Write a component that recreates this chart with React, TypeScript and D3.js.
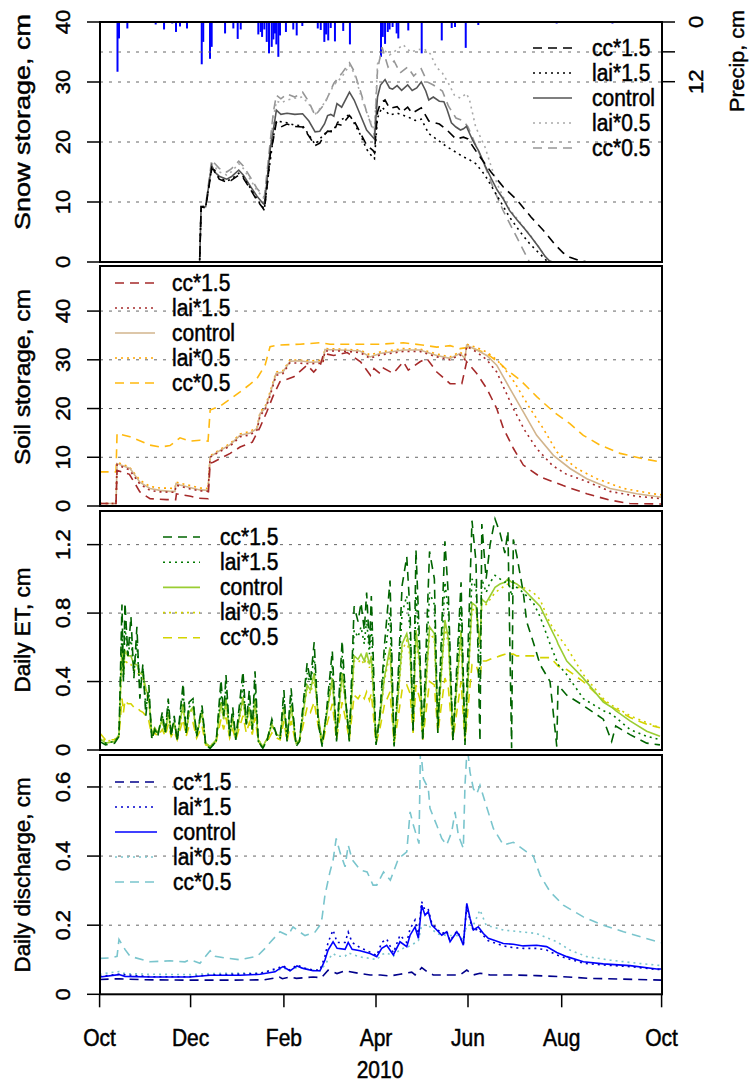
import React from "react";
import * as d3 from "d3";

// ---------------- data ----------------
const monthTickDates = ["2009-10-01", "2009-12-01", "2010-02-01", "2010-04-01", "2010-06-01", "2010-08-01", "2010-10-01"];
const monthTickLabels = ["Oct", "Dec", "Feb", "Apr", "Jun", "Aug", "Oct"];
const yearLabel = "2010";
const seriesNames = ["cc*1.5", "lai*1.5", "control", "lai*0.5", "cc*0.5"];

type Pt = [number, number]; // [day since 2009-10-01, value]

// Snow storage, cm
const snowCc15: Pt[] = [[0,0],[67,0],[68,9.2],[71,9.0],[75,15.5],[77,15.3],[80,13.8],[85,13.3],[88,13.6],[93,14.5],[96,14.0],[101,12.0],[105,10.3],[109,9.0],[110,8.6],[112,13],[114,18],[116,20.5],[118,23.3],[121,22.5],[125,23],[130,22.6],[135,22.5],[139,21],[143,19.4],[146,19.8],[149,21.2],[151,21.8],[155,21.7],[157,23.0],[160,22.8],[165,24.4],[168,23.5],[172,21.5],[176,19.5],[180,18.6],[181,18.2],[183,25],[185,26.5],[188,27],[191,25.6],[196,25.9],[199,25],[203,25.8],[206,24.8],[212,25.7],[217,23.5],[224,23],[229,22],[235,20.5],[240,20.8],[243,20.5],[250,17.8],[258,15],[266,12.5],[275,10.3],[284,7.5],[292,5.3],[300,2.8],[305,1.5],[309,0.8],[315,0.2],[320,0],[365,0]];
const snowLai15: Pt[] = [[0,0],[67,0],[68,9.2],[71,9.1],[75,15.7],[80,14.0],[85,13.5],[88,13.8],[93,14.8],[96,14.2],[101,12.2],[105,10.5],[110,8.8],[112,13.2],[116,20.8],[118,23.5],[125,23.2],[130,22.8],[135,22.7],[139,21.2],[143,19.6],[149,21.4],[155,22],[157,23.2],[165,24.6],[172,21.2],[176,18.8],[180,17.4],[181,17.2],[183,24],[186,25.8],[191,24.5],[196,24.8],[203,24.2],[208,23.6],[212,23.8],[217,21.4],[222,20.5],[229,19.2],[235,18.3],[240,17.5],[243,17.2],[248,16.4],[254,14.5],[262,11],[270,7.5],[277,5],[283,3.1],[288,1.8],[292,0.8],[295,0],[365,0]];
const snowControl: Pt[] = [[0,0],[67,0],[68,9.2],[71,9.2],[75,16.1],[77,15.0],[80,14.3],[85,13.8],[88,14.2],[93,15.3],[96,14.5],[101,12.5],[105,11],[109,9.8],[110,9.6],[112,14],[114,19],[116,22],[118,25.3],[121,24.6],[125,24.8],[130,24.6],[135,24.7],[139,23.5],[143,21.7],[146,21.8],[149,23],[151,24.4],[153,24.6],[155,24.3],[157,26.4],[160,25.8],[165,28.3],[168,27],[172,24.5],[176,22],[180,20.8],[181,20.5],[183,27.5],[185,29.5],[188,30.4],[191,29.0],[193,28.8],[196,29.4],[199,28.6],[203,29.5],[206,28.6],[209,29.0],[212,30.0],[215,28.5],[217,27],[220,27.5],[224,26.8],[227,26.7],[229,25.5],[232,23.2],[235,22.5],[238,22.0],[240,22.2],[242,22.6],[243,22],[246,20.3],[250,18.5],[254,16.1],[258,14],[262,12],[266,10.5],[270,8.6],[275,7],[280,5.5],[284,4.2],[289,2.5],[293,1.0],[296,0.2],[298,0],[365,0]];
const snowLai05: Pt[] = [[0,0],[67,0],[68,9.3],[71,9.3],[75,16.5],[80,15.0],[85,14.5],[88,15.0],[93,16.4],[96,15.6],[101,13.6],[105,12],[110,10.5],[112,15],[116,24],[118,26.8],[121,26.5],[125,27],[130,27.3],[135,27.5],[139,26.3],[143,24.6],[149,26.5],[155,29.5],[160,30.8],[165,32.8],[168,31.5],[172,28],[176,25],[180,22.5],[181,21.8],[183,33],[187,35.4],[191,34.5],[196,35.4],[200,36.2],[205,35],[210,35.4],[214,35.5],[218,34.7],[222,32.5],[226,31.5],[230,29.8],[234,27.8],[238,27.3],[242,28.1],[244,27],[248,22.5],[254,19.2],[258,16],[262,13],[266,10.8],[270,8.8],[275,7.2],[280,5.6],[284,4.3],[289,2.5],[293,1.0],[296,0],[365,0]];
const snowCc05: Pt[] = [[0,0],[67,0],[68,9.3],[71,9.4],[75,17],[80,15.6],[85,15.0],[88,15.5],[93,16.8],[96,16],[101,14],[105,12.3],[110,10.8],[112,15.5],[116,25],[118,27.8],[121,27.2],[125,28],[130,27.5],[135,28.3],[139,26.7],[143,24.4],[149,26.3],[155,29.8],[160,31.4],[165,33.2],[168,31.8],[172,28.5],[176,25],[180,22],[181,21],[183,32],[186,35.8],[190,32.5],[194,33.5],[198,31.5],[203,32.5],[207,31],[212,32.2],[216,30],[220,29.5],[226,28.5],[230,26],[235,24],[240,23.5],[243,22.5],[248,19.5],[254,16],[260,12],[266,8.5],[272,5.5],[277,3],[281,1],[283,0],[365,0]];

// Daily precipitation, cm (right axis of the snow panel)
const precipDays = [12, 13, 18.6, 37.6, 43.2, 48.7, 51.2, 53.9, 58.6, 68.4, 69.4, 73.9, 75, 83.9, 89.4, 92.3, 94.3, 106, 107.6, 108.5, 110, 111.6, 113.1, 114.9, 116, 117.1, 118, 119.3, 120.4, 124.3, 129, 131.2, 134.8, 144.7, 146.6, 148.9, 150, 151.4, 153, 155.7, 161, 165.3, 185.3, 186.5, 188, 189.8, 191, 193, 195.7, 196.8, 203.4, 212.3, 225.6, 232.2, 234.4, 241.5, 249.7, 300.7, 335];
const precipValues = [10, 3.3, 1.3, 0.5, 1.5, 0.3, 2, 0.9, 1.3, 8.5, 4, 7.4, 5, 2.3, 1.3, 3.4, 1.5, 2.5, 2, 3, 1.5, 4, 6.3, 5, 3.5, 2.3, 4.5, 7, 2.7, 2, 1.5, 2.7, 0.8, 1.3, 1.6, 4, 2.5, 3.7, 1.2, 3.9, 1.8, 4.5, 7, 3, 4.4, 2, 1.5, 1.0, 2.3, 3.3, 1.7, 6.3, 3.7, 1.2, 1, 5.2, 0.6, 0.3, 0.3];

// Soil storage, cm
const soilCc15: Pt[] = [[0,0.5],[11,0.5],[11.7,7.3],[20,6.5],[27,2.9],[33.8,1.5],[45,1.3],[51,1.3],[51.5,2.5],[57,2.2],[61,2.0],[66,1.6],[72.6,1.5],[74,8.8],[76,9.0],[87.3,10.8],[93.9,12.1],[102,13.1],[107.2,16.2],[111.6,19.3],[116,22.7],[120.4,25.5],[129.3,26.5],[137.9,28.9],[142.1,27.5],[146.4,29],[148.5,31.3],[154.9,30.9],[163.5,31.5],[172.1,29.6],[178.5,26.8],[180.7,28.2],[184.7,27.2],[186.9,28.3],[193.5,27.2],[200.1,29.6],[203.4,27.9],[211.2,29.6],[215.6,30.3],[222.3,27.5],[231.1,25.1],[238.9,25.1],[242.1,29.6],[248.7,27.2],[255.2,24.1],[261.7,20],[266.1,15.9],[272.6,11.8],[279,8.4],[289.9,6],[304.9,4.2],[319.3,2.5],[333.5,1.2],[345.7,0.5],[365,0.4]];
const soilLai15: Pt[] = [[0,0.5],[11,0.5],[11.7,8.5],[20,7.4],[27,4.5],[33.8,3.2],[40.5,2.9],[50.5,2.8],[51.2,4.3],[60.6,3.5],[67.2,3.1],[72.6,3.0],[74,10.0],[80.6,11.2],[87.3,12.3],[93.9,14.2],[100.6,14.6],[105.2,15.6],[107.2,18.6],[110.5,19.7],[113.8,22.6],[117.8,26.8],[122.4,27.2],[126.9,29.4],[139.7,29.2],[148,29.3],[149.3,31.8],[159,31.8],[171.8,31.5],[178.2,30.3],[184.7,31],[191.3,31.3],[199.9,31.7],[211.2,31.7],[222.3,30.6],[231.1,30.0],[237.7,31],[241,30],[242.1,32.8],[248.7,31.6],[255.2,30],[261.7,27.5],[266,24.5],[272.5,20],[280,15.5],[287.7,11.8],[298,8.3],[307,6.5],[318,5.2],[333.5,3.0],[349.8,2.0],[365,1.5]];
const soilControl: Pt[] = [[0,0.5],[11,0.5],[11.7,8.7],[20.4,7.7],[27,4.9],[33.8,3.6],[40.5,3.2],[47.2,3.0],[50.5,3.0],[51.2,4.6],[53.9,4.3],[60.6,3.8],[67.2,3.3],[72.6,3.2],[74,10.1],[80.6,11.4],[87.3,12.6],[93.9,14.5],[100.6,15],[105.2,15.9],[107.2,19],[110.5,20],[113.8,23],[117.8,27.2],[122.4,27.5],[126.9,29.7],[133.3,29.8],[139.7,29.5],[148,29.6],[149.3,32.1],[159,32],[171.8,31.8],[178.2,30.6],[184.7,31.3],[191.3,31.6],[199.9,32],[211.2,32],[222.3,30.9],[231.1,30.3],[237.7,31.3],[241,30.3],[242.1,33],[248.7,32],[255.2,30.9],[261.7,28.9],[270.3,24.1],[279,19.3],[287.7,14.5],[298.6,10.4],[309.1,7.7],[319.3,5.6],[333.5,3.6],[349.8,2.5],[365,1.8]];
const soilLai05: Pt[] = [[0,0.5],[11,0.5],[11.7,9.0],[20,8.0],[27,5.3],[33.8,4.0],[40.5,3.7],[50.5,3.6],[51.2,4.9],[60.6,4.2],[67.2,3.7],[72.6,3.6],[74,10.3],[80.6,11.6],[87.3,12.8],[93.9,14.8],[100.6,15.3],[105.2,16.2],[107.2,19.3],[110.5,20.4],[113.8,23.4],[117.8,27.5],[122.4,27.8],[126.9,30],[139.7,29.8],[148,29.9],[149.3,32.3],[159,32.2],[171.8,32],[178.2,31],[184.7,31.6],[191.3,31.9],[199.9,32.3],[211.2,32.2],[222.3,31.2],[231.1,30.6],[237.7,31.6],[241,30.8],[242.1,33.2],[248.7,32.5],[255.2,31.6],[261.7,30],[266,28.5],[273,25.5],[283.4,20],[292,15.9],[300.8,11.1],[313.2,7.7],[325.4,5.6],[341.7,3.6],[360,2.5],[365,2.3]];
const soilCc05: Pt[] = [[0,7.0],[11,7.0],[11.7,14.9],[20.4,14.2],[33.8,12.5],[40.5,12.1],[47.2,12.4],[53.9,14],[60.6,13.3],[67.2,13.5],[72.6,13.3],[74,19.7],[80.6,20.5],[89.4,22.4],[93.9,23.4],[100.6,25],[105.2,26.2],[110.5,28.9],[113.8,32.7],[118.5,33],[133.3,33.2],[146.1,33.5],[152.5,33.2],[165.3,33.2],[184.7,33.2],[200.1,33.5],[211.2,33.1],[222.3,32.6],[231.1,32.9],[237.7,32.3],[244.3,32.6],[255.2,31.3],[264,29.2],[268.4,27.9],[277.1,25.8],[287.9,22.4],[298.8,19.3],[309,16.9],[317.2,14.5],[327.4,12.5],[339.6,10.8],[353.8,9.7],[365,9.0]];

// Daily ET, cm (shared days for all five runs)
const etDays = [0,4,10,13,15,16,17,19,21,23,25,27,29,31,33,35,37,39,42,44,46,48,50,52,56,58,60,62.6,65,68.6,71,74,78,81.2,83,84.5,87,89,91,95.8,98,100,102,103.8,106,109,112,115,118.4,120.5,123,125,127.6,130.8,133,137.9,140,142.4,145,147.5,150,154,156.7,160.3,162.5,164.9,168,170.5,172.4,174.5,176,177.8,179,182,184.5,187.5,191.3,194,196.5,199.3,202.4,204.6,206.6,208.5,211,213,217.5,220.7,223,227.7,230,233,238.4,241,245.6,248.2,250.8,252,254.8,257.4,260.6,263.8,267,269,271.4,272.5,274.7,279,281.2,285.5,289.9,296.4,300.8,301.6,307.1,317.2,329.4,334.5,337,345.7,355.9,364];
const etCc15 = [.05,.03,.04,.08,.85,.40,.86,.55,.78,.42,.72,.30,.50,.20,.38,.06,.12,.08,.22,.10,.30,.08,.20,.05,.39,.10,.28,.30,.08,.26,.03,.01,.05,.41,.20,.44,.08,.25,.06,.46,.15,.35,.12,.46,.05,.01,.06,.18,.08,.07,.35,.05,.36,.02,.05,.51,.40,.63,.16,.02,.20,.58,.05,.64,.30,.05,.84,.75,.86,.70,.92,.60,.90,.03,.20,.60,.99,.02,.40,.96,1.13,.80,.10,1.17,.60,.05,1.16,1.00,.10,1.22,.90,.05,.98,.03,1.34,1.10,.05,1.32,1.00,1.20,1.35,1.27,1.15,1.28,.01,1.23,1.14,.92,.75,.63,.50,.40,.02,.38,.32,.26,.18,.05,.14,.09,.04,.03];
const etLai15 = [.06,.04,.05,.08,.70,.42,.72,.55,.66,.45,.62,.36,.48,.25,.33,.07,.12,.09,.20,.10,.26,.09,.18,.06,.33,.10,.25,.28,.08,.24,.03,.01,.05,.34,.20,.37,.08,.22,.06,.38,.15,.30,.12,.38,.05,.01,.06,.16,.08,.07,.30,.06,.31,.03,.05,.45,.38,.55,.18,.03,.20,.50,.06,.55,.30,.06,.70,.66,.72,.62,.76,.56,.74,.04,.20,.52,.80,.03,.36,.80,.90,.70,.12,.92,.55,.06,.92,.85,.12,.98,.80,.06,.85,.04,1.00,.95,.40,1.00,.92,.98,1.02,1.00,.98,1.00,.90,.98,.95,.92,.90,.86,.78,.62,.52,.50,.44,.30,.23,.21,.19,.12,.08,.06];
const etControl = [.07,.04,.05,.09,.60,.45,.58,.55,.55,.50,.50,.45,.44,.36,.30,.09,.13,.10,.18,.10,.22,.10,.16,.07,.27,.10,.22,.25,.09,.22,.04,.02,.06,.28,.18,.30,.09,.19,.07,.31,.15,.25,.12,.30,.06,.02,.07,.15,.09,.08,.25,.07,.26,.04,.06,.38,.35,.45,.20,.04,.18,.42,.08,.45,.28,.08,.55,.53,.56,.52,.57,.50,.55,.06,.18,.42,.60,.05,.30,.62,.68,.58,.15,.70,.50,.08,.72,.68,.15,.76,.65,.08,.70,.06,.86,.84,.62,.88,.86,.90,.95,.97,.98,1.00,.98,.98,.97,.94,.92,.88,.84,.72,.64,.62,.52,.42,.28,.25,.23,.17,.11,.08];
const etLai05 = [.09,.05,.06,.09,.56,.44,.53,.50,.50,.47,.46,.43,.41,.35,.28,.10,.13,.10,.17,.10,.21,.10,.15,.07,.25,.10,.21,.24,.09,.20,.04,.02,.06,.26,.18,.28,.09,.18,.07,.29,.15,.24,.12,.28,.06,.02,.07,.14,.09,.08,.24,.07,.25,.04,.06,.36,.33,.42,.20,.04,.18,.40,.08,.43,.27,.08,.52,.51,.53,.50,.55,.48,.52,.06,.18,.40,.57,.05,.29,.58,.64,.55,.15,.66,.48,.08,.68,.65,.15,.72,.62,.08,.66,.06,.82,.82,.60,.86,.85,.88,.92,.94,.96,.97,.97,.96,.95,.95,.94,.92,.88,.74,.68,.67,.60,.44,.30,.26,.25,.20,.16,.13];
const etCc05 = [.10,.06,.06,.08,.30,.22,.29,.27,.27,.25,.25,.23,.22,.20,.17,.08,.10,.08,.12,.08,.15,.08,.11,.06,.18,.08,.14,.16,.07,.14,.03,.02,.05,.18,.12,.19,.07,.12,.06,.20,.10,.16,.09,.19,.05,.02,.05,.10,.07,.06,.17,.05,.17,.03,.05,.25,.22,.28,.14,.03,.13,.27,.06,.28,.18,.06,.32,.30,.33,.30,.34,.29,.33,.04,.12,.26,.34,.04,.18,.35,.38,.33,.10,.38,.30,.06,.40,.38,.10,.42,.36,.06,.40,.05,.50,.50,.42,.52,.52,.53,.54,.55,.56,.57,.56,.56,.55,.55,.55,.55,.54,.54,.50,.49,.47,.40,.29,.25,.24,.19,.15,.13];

// Daily discharge, cm
const qCc15: Pt[] = [[0,.043],[13,.045],[30,.042],[60,.041],[90,.041],[110,.042],[117,.047],[120,.05],[122,.045],[127,.05],[131,.046],[141.7,.05],[147,.048],[151.3,.07],[157,.06],[162,.068],[171.8,.06],[178.2,.056],[185,.056],[191.3,.053],[197.9,.058],[205.7,.064],[207.9,.056],[212.3,.077],[215.6,.066],[220,.056],[237.7,.056],[242.2,.07],[246.5,.056],[250.8,.061],[257.4,.056],[270.3,.056],[287.7,.054],[305,.051],[321.5,.046],[341.7,.044],[365,.041]];
const qLai15: Pt[] = [[0,.052],[13,.058],[33.8,.051],[60.6,.051],[74,.056],[107.2,.06],[120.4,.078],[122.4,.083],[126.9,.07],[131.4,.085],[135.3,.077],[141.7,.07],[146.1,.07],[149.3,.11],[151.3,.15],[154.5,.186],[157.1,.15],[162.2,.15],[164.2,.18],[166.7,.15],[171.8,.135],[178.2,.122],[182.5,.112],[185.8,.15],[189.1,.16],[193.5,.12],[197.9,.171],[202.4,.15],[204.6,.19],[207.9,.215],[210.1,.175],[212.3,.268],[214.5,.243],[216.7,.245],[219,.205],[222.3,.19],[225.6,.175],[228.9,.183],[231.1,.155],[235.6,.183],[237.7,.168],[239.9,.145],[242.2,.255],[244.3,.215],[246.5,.183],[249.7,.19],[253,.17],[256.2,.155],[259.5,.15],[266,.14],[272.5,.135],[279,.133],[287.7,.133],[294.2,.128],[300.8,.114],[307.1,.104],[317.2,.09],[329.4,.085],[345.7,.08],[362,.072],[365,.072]];
const qControl: Pt[] = [[0,.050],[13,.057],[17,.052],[33.8,.050],[60.6,.050],[74,.055],[93.9,.055],[107.2,.058],[117.1,.065],[120.4,.075],[122.4,.08],[126.9,.068],[131.4,.082],[135.3,.075],[141.7,.068],[146.1,.068],[147.4,.08],[149.3,.099],[151.3,.128],[154.5,.152],[157.1,.133],[162.2,.13],[164.2,.15],[166.7,.13],[171.8,.126],[178.2,.118],[182.5,.109],[185.8,.133],[189.1,.142],[193.5,.114],[197.9,.152],[202.4,.138],[204.6,.171],[207.9,.195],[210.1,.162],[212.3,.258],[214.5,.229],[216.7,.239],[219,.2],[222.3,.186],[225.6,.171],[228.9,.181],[231.1,.152],[235.6,.181],[237.7,.166],[239.9,.142],[242.2,.263],[244.3,.22],[246.5,.186],[249.7,.195],[253,.176],[256.2,.162],[259.5,.157],[266,.147],[272.5,.145],[279,.14],[287.7,.142],[294.2,.138],[300.8,.121],[307.1,.109],[317.2,.094],[329.4,.088],[345.7,.083],[362,.073],[365,.073]];
const qLai05: Pt[] = [[0,.058],[13,.066],[17,.06],[33.8,.058],[60.6,.057],[74,.06],[107.2,.062],[120.4,.072],[122.4,.077],[126.9,.068],[131.4,.078],[141.7,.07],[146.1,.068],[149.3,.085],[151.3,.1],[154.5,.118],[157.1,.11],[162.2,.11],[164.2,.12],[171.8,.108],[178.2,.104],[182.5,.1],[185.8,.115],[189.1,.12],[193.5,.11],[197.9,.13],[204.6,.14],[210.1,.155],[212.3,.2],[216.7,.2],[222.3,.175],[228.9,.17],[235.6,.17],[239.9,.16],[242.2,.2],[246.5,.2],[250.8,.244],[254.8,.2],[266,.186],[277,.181],[287.7,.176],[300.8,.152],[309,.128],[319.3,.109],[333.5,.099],[349.8,.09],[365,.083]];
const qCc05: Pt[] = [[0,.104],[7,.105],[11.7,.11],[13,.159],[17,.13],[20.4,.11],[33.8,.094],[47.2,.097],[57.2,.094],[60.6,.1],[67.2,.09],[74,.126],[77.3,.11],[84,.105],[93.9,.1],[105.2,.11],[110.5,.133],[113.8,.15],[120.4,.181],[125.6,.17],[128.8,.195],[133.3,.18],[136.5,.17],[142.9,.18],[146.1,.2],[147.4,.22],[149.3,.287],[152.5,.354],[154.5,.388],[156.5,.451],[159,.41],[162.2,.369],[164.2,.432],[166.7,.39],[171.8,.36],[176.3,.354],[180.1,.316],[182.5,.316],[187,.354],[191.5,.33],[196.9,.393],[202.4,.412],[204.6,.528],[206.8,.489],[210.5,.436],[211.5,.72],[213.4,.624],[216.7,.595],[217.8,.538],[222.3,.489],[225.6,.451],[228.9,.432],[232.2,.47],[234.4,.528],[236.6,.46],[239.9,.422],[241,.605],[242.5,.72],[244.3,.643],[246.5,.595],[248.7,.58],[250.8,.605],[254.1,.557],[259.5,.48],[266,.432],[272.5,.44],[281.2,.412],[285.5,.4],[289.9,.345],[296.4,.297],[305,.258],[317.2,.224],[329.4,.2],[341.7,.181],[353.9,.164],[365,.149]];

// ---------------- layout & style ----------------
const W = 751, H = 1082;
const X_LEFT = 100, X_RIGHT = 662;
const xStops = [99.6, 190.6, 283.9, 376, 468, 561.7, 661.6];
const FONT = "'Liberation Sans', Arial, Helvetica, sans-serif";
const VS = 1.1; // vertical stretch of glyphs in the reference
const TEXT_STROKE = 0.45;
const dashes = ["9 6", "2 4", "", "2 4", "9 6"];

const parse = d3.utcParse("%Y-%m-%d");
const tickDates = monthTickDates.map((s) => parse(s) as Date);
const base = tickDates[0].getTime();
const dayToDate = (d: number) => new Date(base + d * 86400000);
const x = d3.scaleUtc().domain(tickDates).range(xStops);

const zip = (days: number[], vals: number[]): Pt[] => days.map((d, i) => [d, vals[i]]);

type PanelCfg = {
  top: number; bottom: number; yMax: number; ticks: number[]; extraGrid: number[]; fmt: (v: number) => string;
  title: string; titleY: number; titleLen: number; colors: string[]; series: Pt[][];
  legend: { lx0: number; lx1: number; tx: number; y0: number; step: number };
};

const panels: PanelCfg[] = [
  {
    top: 22, bottom: 262, yMax: 40, ticks: [0, 10, 20, 30, 40], extraGrid: [35], fmt: (v) => String(v),
    title: "Snow storage, cm", titleY: 122, titleLen: 216,
    colors: ["#000000", "#000000", "#555555", "#a9a9a9", "#969696"],
    series: [snowCc15, snowLai15, snowControl, snowLai05, snowCc05],
    legend: { lx0: 533, lx1: 572, tx: 592, y0: 48, step: 25 },
  },
  {
    top: 266, bottom: 506, yMax: 49.25, ticks: [0, 10, 20, 30, 40], extraGrid: [], fmt: (v) => String(v),
    title: "Soil storage, cm", titleY: 377, titleLen: 176,
    colors: ["#a52a2a", "#a52a2a", "#d2b48c", "#ffa500", "#ffb90f"],
    series: [soilCc15, soilLai15, soilControl, soilLai05, soilCc05],
    legend: { lx0: 115, lx1: 155, tx: 172, y0: 283, step: 25 },
  },
  {
    top: 511, bottom: 750, yMax: 1.3965, ticks: [0, 0.4, 0.8, 1.2], extraGrid: [], fmt: (v) => (v === 0 ? "0" : v.toFixed(1)),
    title: "Daily ET, cm", titleY: 630, titleLen: 125,
    colors: ["#006400", "#007800", "#9acd32", "#d0d000", "#d4d400"],
    series: [zip(etDays, etCc15), zip(etDays, etLai15), zip(etDays, etControl), zip(etDays, etLai05), zip(etDays, etCc05)],
    legend: { lx0: 163, lx1: 200, tx: 220, y0: 537, step: 25.2 },
  },
  {
    top: 755, bottom: 994.3, yMax: 0.6925, ticks: [0, 0.2, 0.4, 0.6], extraGrid: [], fmt: (v) => (v === 0 ? "0" : v.toFixed(1)),
    title: "Daily discharge, cm", titleY: 875, titleLen: 195,
    colors: ["#00008b", "#0000cd", "#0000ff", "#7ac5cd", "#7ac5cd"],
    series: [qCc15, qLai15, qControl, qLai05, qCc05],
    legend: { lx0: 115, lx1: 157, tx: 173, y0: 782, step: 25 },
  },
];

const HText = ({ x: tx, y: ty, children, size = 21, anchor = "middle" }: any) => (
  <text transform={`translate(${tx},${ty}) scale(1,${VS})`} textAnchor={anchor} fontSize={size} fontFamily={FONT}
    fill="#000" stroke="#000" strokeWidth={TEXT_STROKE}>
    {children}
  </text>
);
const VText = ({ x: tx, y: ty, children, size = 21, len }: any) => (
  <text transform={`translate(${tx},${ty}) rotate(-90)${len ? "" : ` scale(${VS},1)`}`} textAnchor="middle" fontSize={size} fontFamily={FONT}
    fill="#000" stroke="#000" strokeWidth={TEXT_STROKE}
    {...(len ? { textLength: len, lengthAdjust: "spacingAndGlyphs" } : {})}>
    {children}
  </text>
);

function Panel({ cfg, idx }: { cfg: PanelCfg; idx: number }) {
  const y = d3.scaleLinear().domain([0, cfg.yMax]).range([cfg.bottom, cfg.top]);
  const line = d3.line<Pt>().x((p) => x(dayToDate(p[0]))).y((p) => y(p[1]));
  const clipId = `clip${idx}`;
  const order = [4, 3, 2, 1, 0];
  const grid = cfg.ticks.filter((t) => t > 0 && y(t) > cfg.top + 2).concat(cfg.extraGrid);
  return (
    <g>
      <defs>
        <clipPath id={clipId}>
          <rect x={X_LEFT} y={cfg.top} width={X_RIGHT - X_LEFT} height={cfg.bottom - cfg.top} />
        </clipPath>
      </defs>
      {grid.map((t) => (
        <line key={t} x1={X_LEFT} x2={X_RIGHT} y1={y(t)} y2={y(t)} stroke="#666" strokeWidth={1} strokeDasharray="3 6" />
      ))}
      {cfg.ticks.map((t) => (
        <g key={"t" + t}>
          <line x1={X_LEFT - 13} x2={X_LEFT} y1={y(t)} y2={y(t)} stroke="#000" strokeWidth={1.5} />
          <VText x={70} y={y(t)} size={20}>{cfg.fmt(t)}</VText>
        </g>
      ))}
      <VText x={30} y={cfg.titleY} size={22} len={cfg.titleLen}>{cfg.title}</VText>
      <g clipPath={`url(#${clipId})`}>
        {order.map((k) => (
          <path key={k} d={line(cfg.series[k]) || ""} fill="none" stroke={cfg.colors[k]} strokeWidth={1.6}
            strokeDasharray={dashes[k] || undefined} />
        ))}
      </g>
      <rect x={X_LEFT} y={cfg.top} width={X_RIGHT - X_LEFT} height={cfg.bottom - cfg.top} fill="none" stroke="#000" strokeWidth={2} />
      {seriesNames.map((name, k) => {
        const ly = cfg.legend.y0 + k * cfg.legend.step;
        return (
          <g key={name}>
            <line x1={cfg.legend.lx0} x2={cfg.legend.lx1} y1={ly} y2={ly} stroke={cfg.colors[k]} strokeWidth={1.6}
              strokeDasharray={dashes[k] || undefined} />
            <HText x={cfg.legend.tx} y={ly + 7.5} anchor="start" size={21}>{name}</HText>
          </g>
        );
      })}
    </g>
  );
}

export default function App() {
  const snow = panels[0];
  const pScale = d3.scaleLinear().domain([0, 12]).range([snow.top, snow.top + 59.7]);
  const bottom = panels[3].bottom;
  return (
    <svg width={W} height={H} style={{ position: "absolute", left: 0, top: 0, background: "#fff" }}>
      <rect width={W} height={H} fill="#fff" />
      <g clipPath="url(#clip0)">
        {precipDays.map((d, i) => (
          <line key={i} x1={x(dayToDate(d))} x2={x(dayToDate(d))} y1={pScale(0)} y2={pScale(precipValues[i])}
            stroke="#0000ff" strokeWidth={2} />
        ))}
      </g>
      {panels.map((p, i) => <Panel key={i} cfg={p} idx={i} />)}
      {[0, 6, 12].map((t) => (
        <line key={t} x1={X_RIGHT} x2={X_RIGHT + 13} y1={pScale(t)} y2={pScale(t)} stroke="#000" strokeWidth={1.5} />
      ))}
      <VText x={703} y={pScale(0)} size={20}>0</VText>
      <VText x={703} y={pScale(12)} size={20}>12</VText>
      <VText x={744} y={61} size={21} len={102}>Precip, cm</VText>
      {tickDates.map((d, i) => (
        <g key={i}>
          <line x1={x(d)} x2={x(d)} y1={bottom} y2={bottom + 13} stroke="#000" strokeWidth={1.5} />
          <HText x={x(d)} y={1046}>{monthTickLabels[i]}</HText>
        </g>
      ))}
      <HText x={380} y={1078}>{yearLabel}</HText>
    </svg>
  );
}
